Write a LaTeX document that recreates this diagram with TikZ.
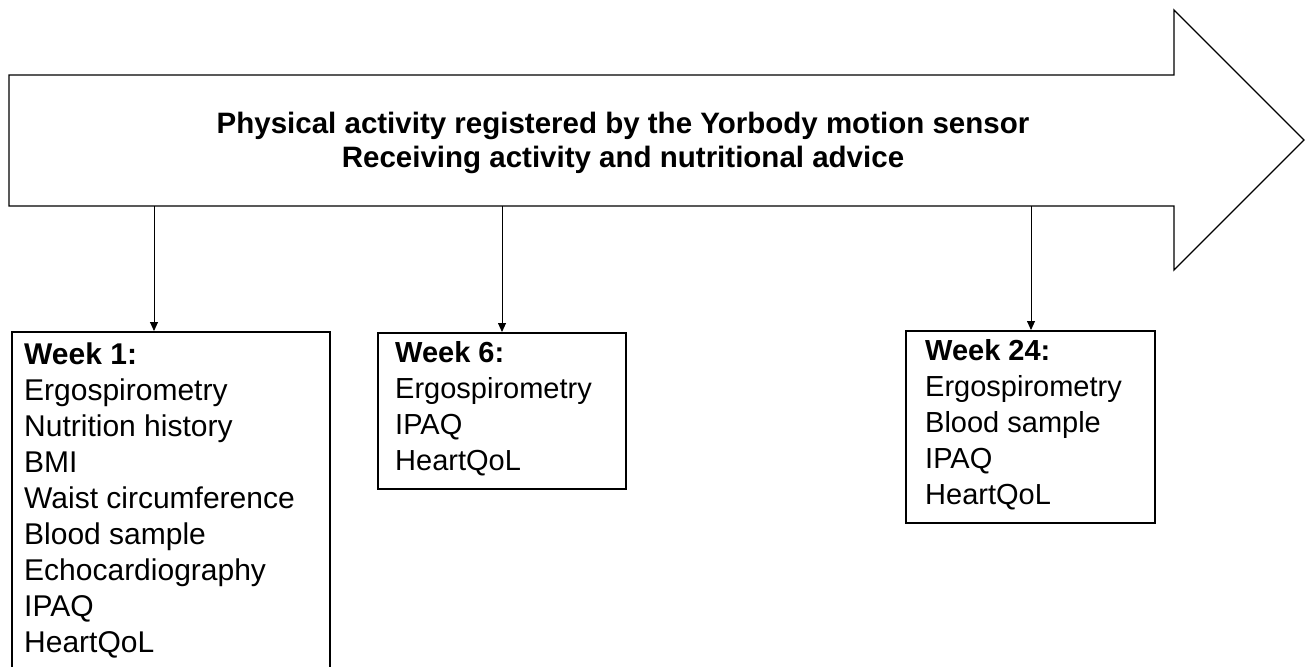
\documentclass[tikz,border=0pt]{standalone}
\usepackage{fontspec}
\setmainfont{Liberation Sans}
\usetikzlibrary{arrows.meta}
\begin{document}
\begin{tikzpicture}[x=1pt,y=-1pt,
  bigarrow/.style={draw=black,line width=1.3pt,line join=miter},
  box/.style={draw=black,line width=1.5pt,rectangle,inner sep=0pt,anchor=north west},
  conn/.style={draw=black,line width=0.9pt,-{Triangle[width=8pt,length=9pt]}},
  title/.style={font=\fontsize{29.5}{34}\selectfont\bfseries,align=center,inner sep=0pt,anchor=north},
  items/.style={font=\fontsize{29}{36}\selectfont,align=left,inner sep=0pt,anchor=north west},
  bigitems/.style={items,font=\fontsize{30}{36}\selectfont}
]
\useasboundingbox (0,0) rectangle (1305,666);
% big arrow
\draw[bigarrow] (9,75) -- (1174,75) -- (1174,10) -- (1304,140) -- (1174,270) -- (1174,206) -- (9,206) -- cycle;
\node[title] (t) at (623,112) {Physical activity registered by the Yorbody motion sensor\\Receiving activity and nutritional advice};
\coordinate (s1) at (154,206);
\coordinate (s2) at (502,206);
\coordinate (s3) at (1031,206);
% boxes
\node[box,minimum width=318pt,minimum height=345pt] (b1) at (11,331) {};
\node[box,minimum width=248pt,minimum height=156pt] (b2) at (377,332) {};
\node[box,minimum width=249pt,minimum height=192pt] (b3) at (905,330) {};
% texts
\node[bigitems] (x1) at (24,343) {\textbf{Week 1:}\\Ergospirometry\\Nutrition history\\BMI\\Waist circumference\\Blood sample\\Echocardiography\\IPAQ\\HeartQoL};
\node[items] (x2) at (395,341) {\textbf{Week 6:}\\Ergospirometry\\IPAQ\\HeartQoL};
\node[items] (x3) at (925,339) {\textbf{Week 24:}\\Ergospirometry\\Blood sample\\IPAQ\\HeartQoL};
% connectors
\draw[conn] (s1) -- (s1 |- b1.north);
\draw[conn] (s2) -- (s2 |- b2.north);
\draw[conn] (s3) -- (s3 |- b3.north);
\end{tikzpicture}
\end{document}
